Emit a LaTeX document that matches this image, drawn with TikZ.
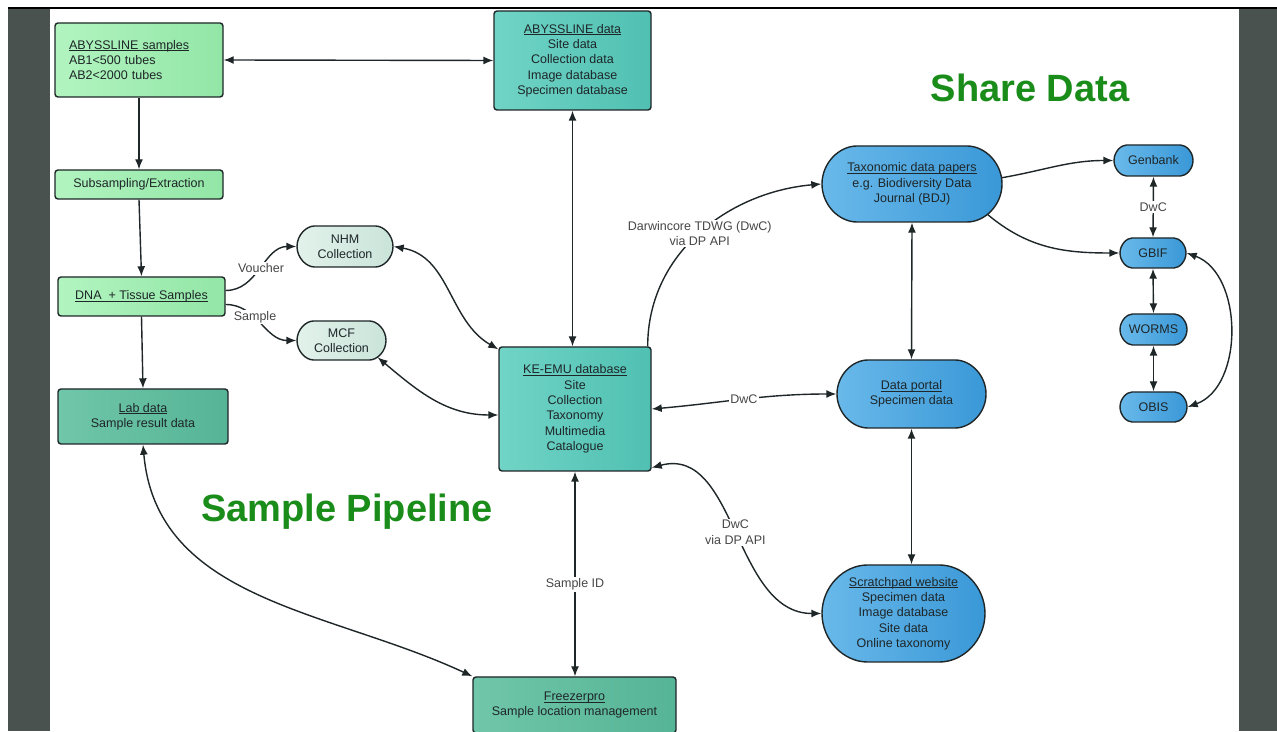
\documentclass[tikz,border=0pt]{standalone}
\usepackage{fontspec}
\setmainfont{Liberation Sans}
\usetikzlibrary{arrows.meta,shapes.misc}
\definecolor{barcol}{RGB}{74,82,79}
\definecolor{greenL}{RGB}{178,244,192}
\definecolor{greenR}{RGB}{146,230,166}
\definecolor{labL}{RGB}{112,198,168}
\definecolor{labR}{RGB}{86,180,150}
\definecolor{tealL}{RGB}{112,212,198}
\definecolor{tealR}{RGB}{80,192,178}
\definecolor{paleL}{RGB}{226,242,235}
\definecolor{paleR}{RGB}{202,228,218}
\definecolor{blueL}{RGB}{105,185,234}
\definecolor{blueR}{RGB}{58,152,215}
\definecolor{titlegreen}{RGB}{26,140,26}
\definecolor{inkcol}{RGB}{30,38,40}
\definecolor{labelcol}{RGB}{70,70,70}
\newcommand{\headul}[1]{\underline{\smash{#1}}\vphantom{#1}}
\begin{document}
\begin{tikzpicture}[x=1pt, y=1pt, >={Latex[length=10pt,width=8pt]},
            txt/.style={font=\fontsize{12.5}{15.3}\selectfont},
            box/.style={txt, rectangle, rounded corners=3pt, draw=inkcol, line width=1.4pt, text=inkcol, align=center, inner sep=2pt},
            pill/.style={box, rounded rectangle},
            greenbox/.style={box, left color=greenL, right color=greenR},
            labbox/.style={box, left color=labL, right color=labR},
            tealbox/.style={box, left color=tealL, right color=tealR},
            palepill/.style={pill, left color=paleL, right color=paleR},
            bluepill/.style={pill, left color=blueL, right color=blueR},
            link/.style={draw=inkcol, line width=1.4pt},
            tag/.style={txt, fill=white, text=labelcol, inner sep=1.5pt, align=center},
            heading/.style={font=\fontsize{38}{40}\selectfont\bfseries, text=titlegreen}]
            \useasboundingbox (0,0) rectangle (1277,731);
            \fill[white] (0,0) rectangle (1277,731);
            \fill[barcol] (8,0) rectangle (50,723);
            \fill[barcol] (1239,0) rectangle (1277,723);
            \draw[line width=2pt] (8,723) -- (1277,723);

            \node[greenbox, minimum width=168pt, minimum height=74pt, text width=140pt, align=left] (abySamples) at (139,671) {\headul{ABYSSLINE samples}\\AB1<500 tubes\\AB2<2000 tubes};
            \node[greenbox, minimum width=168pt, minimum height=29pt] (subsample) at (139,546.5) {Subsampling/Extraction};
            \node[greenbox, minimum width=167pt, minimum height=39pt] (dnaTissue) at (141.5,434.5) {\headul{DNA~ + Tissue Samples}};
            \node[labbox, minimum width=170pt, minimum height=55pt] (labData) at (143,314.5) {\headul{Lab data}\\Sample result data};
            \node[tealbox, minimum width=157pt, minimum height=99pt] (abyData) at (572.5,670.5) {\headul{ABYSSLINE data}\\Site data\\Collection data\\Image database\\Specimen database};
            \node[palepill, minimum width=100pt, minimum height=41pt] (nhm) at (345,484.5) {NHM\\Collection};
            \node[palepill, minimum width=93pt, minimum height=39pt] (mcf) at (341.5,390.5) {MCF\\Collection};
            \node[tealbox, minimum width=152pt, minimum height=124pt] (keemu) at (575,322) {\headul{KE-EMU database}\\Site\\Collection\\Taxonomy\\Multimedia\\Catalogue};
            \node[labbox, minimum width=203pt, minimum height=56pt] (freezer) at (574.5,26) {\headul{Freezerpro}\\Sample location management};
            \node[bluepill, minimum width=184pt, minimum height=76pt] (taxo) at (912,547) {\headul{Taxonomic data papers}\\e.g. Biodiversity Data\\Journal (BDJ)};
            \node[bluepill, minimum width=153pt, minimum height=68pt] (portal) at (911.5,337) {\headul{Data portal}\\Specimen data};
            \node[bluepill, minimum width=167pt, minimum height=97pt] (scratch) at (903.5,117.5) {\headul{Scratchpad website}\\Specimen data\\Image database\\Site data\\Online taxonomy};
            \node[bluepill, minimum width=83pt, minimum height=31pt] (genbank) at (1153.5,570.5) {Genbank};
            \node[bluepill, minimum width=70pt, minimum height=30pt] (gbif) at (1153,478) {GBIF};
            \node[bluepill, minimum width=71pt, minimum height=31pt] (worms) at (1153.5,401.5) {WORMS};
            \node[bluepill, minimum width=71pt, minimum height=30pt] (obis) at (1153.5,324) {OBIS};

            \node[heading] (shareTitle) at (1030,643) {Share Data};
            \node[heading] (pipelineTitle) at (347,219) {Sample Pipeline};

            \draw[link, <->] (abyData.west) -- (abySamples.east);
            \draw[link, ->] (abySamples.south) -- (subsample.north);
            \draw[link, ->] (subsample.south) -- (dnaTissue.north);
            \draw[link, ->] (dnaTissue.south) -- (labData.north);
            \draw[link, ->] ([yshift=6pt]dnaTissue.east) to[out=0, in=180] node[tag] {Voucher} (nhm.west);
            \draw[link, ->] ([yshift=-8pt]dnaTissue.east) to[out=0, in=180] node[tag, pos=0.4] {Sample} (mcf.west);
            \draw[link, <->] (nhm.east) to[out=-10, in=150] ([yshift=-3pt]keemu.north west);
            \draw[link, <->] (mcf.-25) to[out=-40, in=180] ([yshift=-6pt]keemu.west);
            \draw[link, <->] (abyData.south) -- (abyData.south |- keemu.north);
            \draw[link, ->] ([xshift=-4pt]keemu.north east) to[out=90, in=185] node[tag] {Darwincore TDWG (DwC)\\via DP API} (taxo.west);
            \draw[link, <->] (keemu.east) to[out=5, in=180] node[tag] {DwC} (portal.west);
            \draw[link, <->] ([yshift=4pt]keemu.south east) to[out=15, in=180] node[tag] {DwC\\via DP API} (scratch.west);
            \draw[link, <->] (keemu.south) -- node[tag, pos=0.55] {Sample ID} (keemu.south |- freezer.north);
            \draw[link, <->] (labData.south) to[out=-85, in=155] (freezer.north west);
            \draw[link, <->] (taxo.south) -- (portal.north);
            \draw[link, <->] (portal.south) -- (portal.south |- scratch.north);
            \draw[link, ->] (taxo.4) to[out=10, in=180] (genbank.west);
            \draw[link, ->] (taxo.-22) to[out=-40, in=180] (gbif.west);
            \draw[link, <->] (genbank.south) -- node[tag] {DwC} (gbif.north);
            \draw[link, <->] (gbif.south) -- (worms.north);
            \draw[link, <->] (worms.south) -- (obis.north);
            \draw[link, <->] (gbif.east) to[out=-20, in=20] (obis.east);
        \end{tikzpicture}
\end{document}
